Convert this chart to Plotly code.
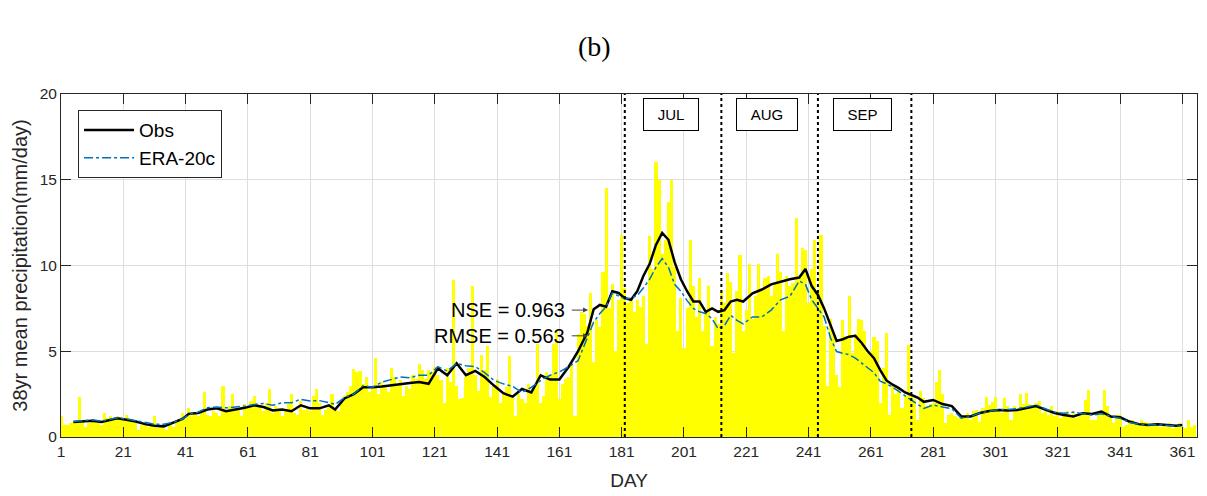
import plotly.graph_objects as go

# ---------------- data ----------------
days = list(range(1, 366))
daily_precip = [
    1.2, 0.7, 0.7, 0.8, 0.9, 0.8, 2.35, 0.9, 0.6, 0.8,
    0.9, 1.0, 0.8, 0.7, 1.4, 1.1, 1.2, 1.0, 1.2, 1.1,
    1.0, 1.3, 1.1, 0.9, 0.8, 0.4, 0.7, 0.8, 0.6, 0.7,
    1.2, 0.5, 0.6, 0.5, 0.4, 0.7, 0.6, 0.9, 1.0, 1.4,
    1.2, 1.7, 1.3, 1.4, 1.2, 1.6, 2.6, 1.3, 1.2, 1.5,
    1.4, 1.2, 3.0, 1.5, 1.8, 2.5, 1.6, 1.7, 1.2, 1.9,
    1.7, 2.1, 2.4, 1.9, 1.8, 1.5, 2.0, 2.8, 1.4, 1.8,
    1.7, 1.2, 1.6, 1.9, 2.5, 1.4, 1.3, 2.1, 1.6, 1.7,
    1.5, 2.4, 2.8, 2.0, 1.3, 1.6, 1.8, 2.5, 1.6, 1.5,
    2.0, 2.4, 2.6, 3.0, 3.95, 3.8, 3.85, 3.1, 3.5, 2.6,
    2.9, 4.6, 2.5, 3.2, 2.9, 2.6, 4.0, 3.5, 3.1, 3.3,
    2.4, 3.0, 2.8, 3.6, 3.4, 4.26, 3.9, 3.4, 3.9, 3.8,
    4.1, 3.6, 3.3, 2.0, 4.0, 3.2, 9.15, 3.0, 2.2, 2.3,
    3.5, 4.0, 8.8, 3.6, 2.7, 4.8, 3.9, 5.3, 2.35, 3.0,
    3.4, 2.0, 2.6, 2.9, 4.7, 2.4, 1.2, 2.5, 2.2, 2.0,
    3.1, 2.6, 2.9, 5.4, 2.0, 2.4, 3.8, 3.6, 5.4, 6.2,
    2.2, 3.1, 3.4, 3.5, 4.2, 1.2, 6.0, 7.3, 7.2, 6.5,
    8.4, 4.4, 6.8, 6.4, 9.6, 14.5, 7.5, 8.9, 5.0, 8.0,
    11.8, 8.7, 7.8, 8.1, 7.3, 8.0, 7.6, 8.2, 5.4, 11.7,
    9.8, 16.05, 15.0, 10.7, 11.5, 13.7, 15.0, 9.9, 6.2, 8.1,
    5.2, 7.5, 11.5, 8.8, 7.0, 9.25, 6.2, 7.4, 8.8, 5.3,
    7.0, 6.6, 8.6, 7.8, 9.54, 9.06, 4.9, 8.5, 10.6, 6.2,
    7.4, 10.1, 6.9, 8.2, 10.1, 8.5, 9.3, 9.4, 8.2, 9.0,
    10.7, 9.6, 6.2, 9.4, 8.8, 9.0, 12.75, 9.3, 11.0, 10.9,
    7.8, 9.8, 11.5, 8.6, 11.8, 6.5, 3.0, 6.9, 6.0, 3.6,
    2.9, 6.8, 5.9, 8.2, 4.9, 6.0, 6.9, 6.8, 6.2, 4.9,
    5.0, 5.85, 5.6, 2.0, 4.0, 6.05, 1.3, 3.1, 2.5, 2.9,
    1.7, 2.4, 5.36, 2.5, 2.2, 1.0, 2.7, 2.3, 1.8, 1.9,
    2.0, 3.2, 3.9, 2.5, 0.8, 1.3, 1.4, 1.2, 1.1, 1.2,
    1.2, 1.4, 1.0, 1.5, 1.6, 0.9, 1.7, 2.35, 1.87, 2.06,
    2.35, 1.5, 1.4, 2.25, 1.8, 1.0, 1.8, 1.5, 2.5, 1.9,
    2.55, 1.9, 1.8, 2.0, 2.1, 1.4, 1.5, 1.3, 1.8, 1.2,
    1.5, 1.1, 1.3, 1.5, 1.2, 1.4, 1.1, 1.3, 1.4, 2.16,
    2.74, 1.0, 1.0, 1.3, 1.6, 2.74, 1.8, 1.1, 0.8, 1.3,
    1.28, 0.6, 0.7, 0.9, 1.0, 0.8, 0.7, 1.0, 0.9, 0.8,
    0.7, 0.8, 0.8, 0.6, 0.7, 0.6, 0.8, 0.5, 0.7, 0.8,
    0.6, 0.5, 1.0, 0.6, 0.7,
]

line_days = [
    5, 8, 11, 14, 17, 19, 22, 25, 28, 31, 34, 37, 40, 42, 45, 48, 51, 54, 57, 60,
    63, 66, 69, 72, 75, 78, 81, 84, 87, 89, 92, 95, 98, 101, 104, 107, 110, 113, 116, 119,
    122, 125, 128, 131, 134, 137, 140, 143, 146, 149, 152, 155, 158, 161, 164, 167, 170, 172, 174, 176,
    178, 180, 182, 184, 186, 188, 190, 192, 194, 196, 198, 200, 202, 204, 206, 208, 210, 212, 214, 216,
    218, 220, 223, 226, 229, 232, 235, 238, 240, 242, 244, 246, 248, 250, 252, 254, 256, 258, 260, 262,
    264, 266, 268, 270, 272, 274, 276, 278, 281, 284, 287, 290, 293, 296, 299, 302, 305, 308, 311, 314,
    317, 320, 323, 326, 329, 332, 335, 338, 341, 344, 347, 350, 353, 356, 359, 361,
]
obs_smooth = [
    0.87, 0.9, 0.95, 0.88, 1.0, 1.09, 1.0, 0.9, 0.75, 0.66, 0.62, 0.82, 1.05, 1.35, 1.4, 1.6, 1.67, 1.5, 1.58, 1.7,
    1.85, 1.75, 1.55, 1.6, 1.5, 1.85, 1.67, 1.67, 1.85, 1.6, 2.25, 2.5, 2.9, 2.9, 2.95, 3.03, 3.09, 3.15, 3.2, 3.1,
    4.0, 3.6, 4.3, 3.6, 3.85, 3.5, 3.0, 2.55, 2.35, 2.8, 2.6, 3.6, 3.35, 3.35, 4.1, 5.0, 6.1, 7.45, 7.7, 7.6,
    8.5, 8.4, 8.1, 8.0, 8.5, 9.4, 10.1, 11.2, 11.9, 11.5, 10.2, 9.2, 8.5, 7.9, 7.9, 7.3, 7.5, 7.3, 7.4, 7.9,
    8.0, 7.9, 8.38, 8.6, 8.9, 9.05, 9.2, 9.3, 9.8, 8.8, 8.28, 7.5, 6.6, 5.6, 5.7, 5.85, 5.9, 5.5, 5.0, 4.6,
    3.9, 3.3, 3.05, 2.85, 2.6, 2.45, 2.3, 2.05, 2.16, 1.92, 1.8, 1.2, 1.2, 1.4, 1.52, 1.57, 1.55, 1.58, 1.67, 1.8,
    1.6, 1.4, 1.28, 1.2, 1.38, 1.34, 1.48, 1.2, 1.15, 0.9, 0.75, 0.7, 0.74, 0.68, 0.66, 0.7,
]
era_smooth = [
    0.9, 0.95, 1.0, 0.92, 1.05, 1.12, 1.05, 0.95, 0.82, 0.75, 0.75, 0.85, 1.05, 1.3, 1.45, 1.7, 1.75, 1.7, 1.75, 1.8,
    1.9, 1.95, 1.85, 2.0, 2.0, 2.2, 2.1, 2.12, 2.0, 1.9, 2.3, 2.5, 3.0, 2.9, 3.2, 3.35, 3.5, 3.45, 3.6, 3.6,
    4.1, 3.85, 4.3, 4.15, 4.1, 3.75, 3.3, 3.1, 2.95, 2.6, 2.9, 3.3, 3.6, 3.8, 4.1, 4.45, 5.8, 6.7, 7.2, 7.6,
    8.4, 8.2, 8.05, 8.1, 8.25, 8.7, 9.2, 9.9, 10.4, 9.9, 8.9, 8.5, 7.95, 7.5, 7.3, 7.2, 6.9, 6.3, 6.5, 7.1,
    6.8, 6.6, 7.0, 7.0, 7.4, 8.0, 8.2, 9.1, 8.9, 8.0, 7.5, 7.0, 5.8, 4.98, 4.88, 4.8, 4.6, 4.3, 4.0, 3.75,
    3.25, 3.1, 2.9, 2.64, 2.4, 2.15, 1.9, 1.67, 1.87, 1.75, 1.65, 1.1, 1.2, 1.4, 1.5, 1.6, 1.6, 1.65, 1.75, 1.87,
    1.65, 1.45, 1.38, 1.45, 1.35, 1.28, 1.35, 1.2, 1.1, 0.85, 0.75, 0.7, 0.72, 0.66, 0.64, 0.66,
]

month_start_days = [182, 213, 244, 274]
month_labels = ["JUL", "AUG", "SEP"]
x_tick_vals = list(range(1, 362, 20))
y_tick_vals = [0, 5, 10, 15, 20]

# ---------------- figure ----------------
TXT = "#262626"
FONT = "Liberation Sans, Arial, sans-serif"

fig = go.Figure()
fig.add_trace(go.Bar(x=days, y=daily_precip, marker=dict(color="#FFFF00", line=dict(width=0)),
                     showlegend=False, hoverinfo="skip"))
fig.add_trace(go.Scatter(x=line_days, y=obs_smooth, mode="lines", name="Obs",
                         line=dict(color="black", width=2.5)))
fig.add_trace(go.Scatter(x=line_days, y=era_smooth, mode="lines", name="ERA-20c",
                         line=dict(color="#0072BD", width=1.5, dash="dashdot")))

for d in month_start_days:
    fig.add_shape(type="line", x0=d, x1=d, y0=0, y1=20, xref="x", yref="y",
                  line=dict(color="black", width=2, dash="dot"), layer="above")

box_widths = [50, 56, 53]
for i, lab in enumerate(month_labels):
    xc = (month_start_days[i] + month_start_days[i + 1]) / 2 - 0.8
    fig.add_annotation(x=xc, y=18.8, xref="x", yref="y", text=lab, showarrow=False,
                       font=dict(family=FONT, size=15, color="black"),
                       bordercolor="black", borderwidth=1, borderpad=2,
                       width=box_widths[i], height=27, bgcolor="white", align="center")

# NSE / RMSE texts with arrows
fig.add_annotation(x=163.3, y=7.4, xref="x", yref="y", text="NSE = 0.963", showarrow=False,
                   xanchor="right", font=dict(family=FONT, size=20, color="black"))
fig.add_annotation(x=163.3, y=5.9, xref="x", yref="y", text="RMSE = 0.563", showarrow=False,
                   xanchor="right", font=dict(family=FONT, size=20, color="black"))
for yy in [7.4, 5.9]:
    fig.add_annotation(x=170.2, y=yy, ax=164.5, ay=yy, xref="x", yref="y", axref="x", ayref="y",
                       text="", showarrow=True, arrowhead=2, arrowsize=1, arrowwidth=1,
                       arrowcolor="#404040")

fig.add_annotation(x=0.470, y=1.19, xref="paper", yref="paper", text="(b)", showarrow=False,
                   font=dict(family="Liberation Serif, Times New Roman, serif", size=28, color="black"))

fig.update_layout(
    width=1207, height=496,
    margin=dict(l=61, r=10, t=94, b=59),
    paper_bgcolor="white", plot_bgcolor="white",
    bargap=0,
    font=dict(family=FONT, color=TXT),
    legend=dict(x=0.015, y=0.953, xanchor="left", yanchor="top",
                bordercolor=TXT, borderwidth=1, bgcolor="white",
                font=dict(family=FONT, size=19, color="black"),
                itemwidth=50, tracegroupgap=0),
)
fig.update_xaxes(range=[1, 365.7], tickmode="array", tickvals=x_tick_vals, automargin=False,
                 ticks="inside", ticklen=10, tickcolor=TXT, showline=True, linecolor=TXT,
                 linewidth=1, mirror="ticks", showgrid=True, gridcolor="#dedede", zeroline=False,
                 tickfont=dict(size=15.5, color=TXT),
                 title=dict(text="DAY", font=dict(size=19, color=TXT), standoff=15))
fig.update_yaxes(range=[0, 20], tickmode="array", tickvals=y_tick_vals, automargin=False,
                 ticks="inside", ticklen=10, tickcolor=TXT, showline=True, linecolor=TXT,
                 linewidth=1, mirror="ticks", showgrid=True, gridcolor="#dedede", zeroline=False,
                 tickfont=dict(size=15.5, color=TXT),
                 title=dict(text="38yr mean precipitation(mm/day)", font=dict(size=20, color=TXT),
                            standoff=6))

fig.write_html("out.html")
